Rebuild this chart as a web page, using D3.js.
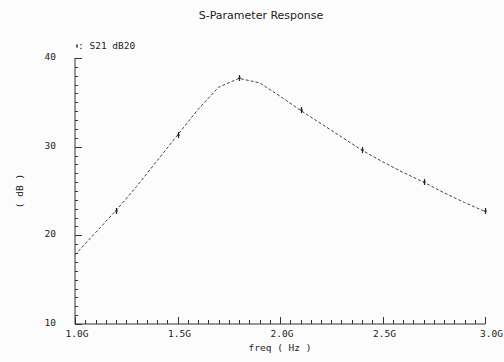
<!DOCTYPE html>
<html>
<head>
<meta charset="utf-8">
<script src="https://cdn.jsdelivr.net/npm/d3@7"></script>
<style>
  body { margin: 0; background: #fcfcfc; }
  svg { display: block; }
  text { fill: #222; }
</style>
</head>
<body>
<div id="viz"></div>
<script>
// S21 (dB20) sampled every 0.1 GHz
var freqs = [1.0, 1.1, 1.2, 1.3, 1.4, 1.5, 1.6, 1.7, 1.8, 1.9, 2.0,
             2.1, 2.2, 2.3, 2.4, 2.5, 2.6, 2.7, 2.8, 2.9, 3.0];
var s21 = [17.8, 20.3, 22.8, 25.5, 28.4, 31.3, 34.2, 36.7, 37.7, 37.2, 35.7,
           34.1, 32.6, 31.1, 29.6, 28.3, 27.1, 26.0, 24.8, 23.7, 22.7];
var markerFreqs = [1.2, 1.5, 1.8, 2.1, 2.4, 2.7, 3.0];
var xTicks = [1.0, 1.5, 2.0, 2.5, 3.0];
var xTickLabels = ["1.0G", "1.5G", "2.0G", "2.5G", "3.0G"];
var yTicks = [10, 20, 30, 40];

var width = 504, height = 362;
var x = d3.scaleLinear().domain([1, 3]).range([75, 485]);
var y = d3.scaleLinear().domain([10, 40]).range([324, 58]);

var svg = d3.select("#viz").append("svg")
    .attr("width", width)
    .attr("height", height);

var mono = "'DejaVu Sans Mono', monospace";
var fs = "9.5px";

svg.append("text")
    .attr("x", 261).attr("y", 19)
    .attr("text-anchor", "middle")
    .style("font-family", "'DejaVu Sans', sans-serif")
    .style("font-size", "11px")
    .text("S-Parameter Response");

// axes lines
var axisColor = "#333";
svg.append("line")
    .attr("x1", x(1)).attr("x2", x(1))
    .attr("y1", y(10)).attr("y2", y(40))
    .style("stroke", axisColor).style("stroke-width", 1);
svg.append("line")
    .attr("x1", x(1)).attr("x2", x(3))
    .attr("y1", y(10)).attr("y2", y(10))
    .style("stroke", axisColor).style("stroke-width", 1);

// minor/major ticks, pointing inside
var xMinor = d3.range(0, 41).map(function (i) { return 1 + i * 0.05; });
svg.selectAll(".xtick").data(xMinor).enter().append("line")
    .attr("x1", function (d) { return Math.round(x(d)) + 0.5; })
    .attr("x2", function (d) { return Math.round(x(d)) + 0.5; })
    .attr("y1", y(10))
    .attr("y2", function (d, i) { return y(10) - (i % 10 === 0 ? 7 : 4); })
    .style("stroke", axisColor).style("stroke-width", 1);

var yMinor = d3.range(0, 31).map(function (i) { return 10 + i; });
svg.selectAll(".ytick").data(yMinor).enter().append("line")
    .attr("y1", function (d) { return Math.round(y(d)) + 0.5; })
    .attr("y2", function (d) { return Math.round(y(d)) + 0.5; })
    .attr("x1", x(1))
    .attr("x2", function (d, i) { return x(1) + (i % 10 === 0 ? 7 : 3); })
    .style("stroke", axisColor).style("stroke-width", 1);

// tick labels (last one kept inside the picture)
var last = xTicks.length - 1;
svg.selectAll(".xlab").data(xTicks).enter().append("text")
    .attr("x", function (d, i) { return i === last ? width - 1 : x(d) + 2; })
    .attr("y", 337)
    .attr("text-anchor", function (d, i) { return i === last ? "end" : "middle"; })
    .style("font-family", mono)
    .style("font-size", fs)
    .text(function (d, i) { return xTickLabels[i]; });

svg.selectAll(".ylab").data(yTicks).enter().append("text")
    .attr("x", 56)
    .attr("y", function (d) { return y(d) + 2; })
    .attr("text-anchor", "end")
    .style("font-family", mono)
    .style("font-size", fs)
    .text(function (d) { return d; });

svg.append("text")
    .attr("x", 280).attr("y", 351)
    .attr("text-anchor", "middle")
    .style("font-family", mono)
    .style("font-size", fs)
    .text("freq ( Hz )");

svg.append("text")
    .attr("transform", "translate(23,191) rotate(-90)")
    .attr("text-anchor", "middle")
    .style("font-family", mono)
    .style("font-size", fs)
    .text("( dB )");

// legend
svg.append("path")
    .attr("d", "M77,44V48M76,46H78")
    .style("stroke", "#333").style("stroke-width", 1);
svg.append("text")
    .attr("x", 78).attr("y", 49)
    .style("font-family", mono)
    .style("font-size", fs)
    .text(": S21 dB20");

// curve
var pts = freqs.map(function (f, i) { return [f, s21[i]]; });
var line = d3.line()
    .x(function (d) { return x(d[0]); })
    .y(function (d) { return y(d[1]); });

svg.append("path")
    .datum(pts)
    .attr("d", line)
    .style("fill", "none")
    .style("stroke", "#444")
    .style("stroke-width", 1)
    .style("stroke-dasharray", "3,2");

// markers
var markers = markerFreqs.map(function (f) { return pts[freqs.indexOf(f)]; });
svg.selectAll(".mk").data(markers).enter().append("path")
    .attr("d", function (d) {
        var cx = Math.round(x(d[0])) + 0.5, cy = Math.round(y(d[1]));
        return "M" + cx + "," + (cy - 3) + "V" + (cy + 3) +
               "M" + (cx - 1.5) + "," + cy + "H" + (cx + 1.5);
    })
    .style("stroke", "#222")
    .style("stroke-width", 1.2);
</script>
</body>
</html>
